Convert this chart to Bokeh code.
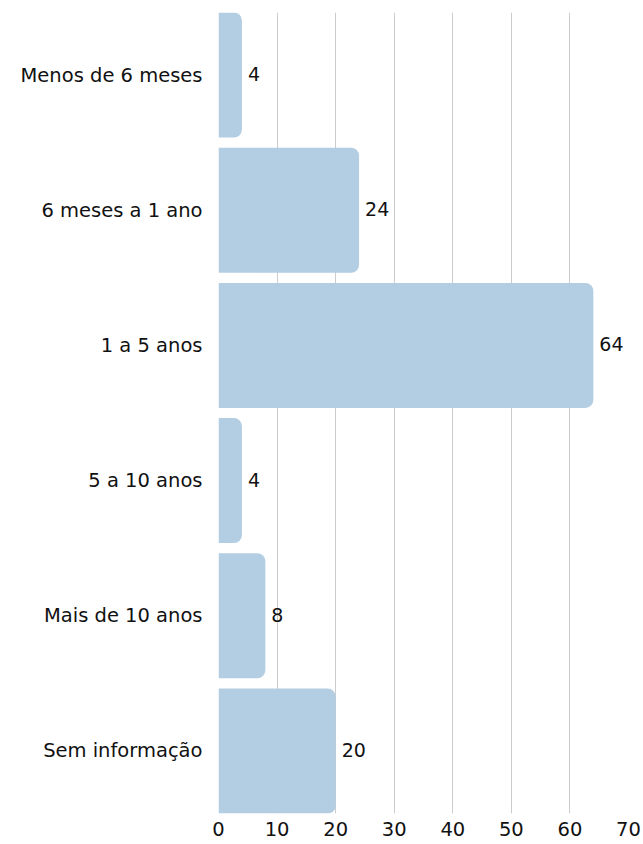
from bokeh.plotting import figure
from bokeh.models import ColumnDataSource, FixedTicker, Range1d
from bokeh.embed import file_html
from bokeh.resources import INLINE
from bokeh.core.properties import value

categories = ["Menos de 6 meses", "6 meses a 1 ano", "1 a 5 anos", "5 a 10 anos", "Mais de 10 anos", "Sem informação"]
values = [4, 24, 64, 4, 8, 20]
x_ticks = [0, 10, 20, 30, 40, 50, 60, 70]

FONT = "DejaVu Sans"
positions = list(range(len(categories)))

src = ColumnDataSource(dict(
    y=positions,
    v=values,
    lbl=[str(v) for v in values],
))

BAR_H = 0.925
p = figure(width=643, height=844, output_backend="svg", toolbar_location=None,
           x_range=Range1d(0, 70),
           y_range=Range1d(len(categories) - 1 + BAR_H / 2, -BAR_H / 2),
           min_border_left=218, min_border_right=15, min_border_top=12, min_border_bottom=31)
p.outline_line_color = None

p.hbar(y="y", right="v", left=0, height=BAR_H, source=src,
       fill_color="#b3cee2", line_color=None, border_radius=(0, 8, 8, 0))

p.text(x="v", y="y", text="lbl", source=src, x_offset=6, y_offset=-1,
       text_baseline="middle", text_align="left",
       text_font=value(FONT), text_font_size="19px", text_color="#111111")

p.xaxis.ticker = FixedTicker(ticks=x_ticks)
p.xaxis.axis_line_color = None
p.xaxis.major_tick_line_color = None
p.xaxis.minor_tick_line_color = None
p.xaxis.major_tick_out = 0
p.xaxis.major_label_standoff = 8
p.xaxis.major_label_text_font = FONT
p.xaxis.major_label_text_font_size = "19.5px"
p.xaxis.major_label_text_color = "#111111"

p.yaxis.ticker = FixedTicker(ticks=positions)
p.yaxis.major_label_overrides = {i: c for i, c in enumerate(categories)}
p.yaxis.axis_line_color = None
p.yaxis.major_tick_line_color = None
p.yaxis.minor_tick_line_color = None
p.yaxis.major_tick_out = 0
p.yaxis.major_label_standoff = 16
p.yaxis.major_label_text_font = FONT
p.yaxis.major_label_text_font_size = "19.5px"
p.yaxis.major_label_text_color = "#111111"

p.ygrid.grid_line_color = None
p.xgrid.ticker = FixedTicker(ticks=x_ticks)
p.xgrid.grid_line_color = "#cccccc"
p.xgrid.grid_line_width = 1

open("out.html", "w").write(file_html(p, INLINE))
